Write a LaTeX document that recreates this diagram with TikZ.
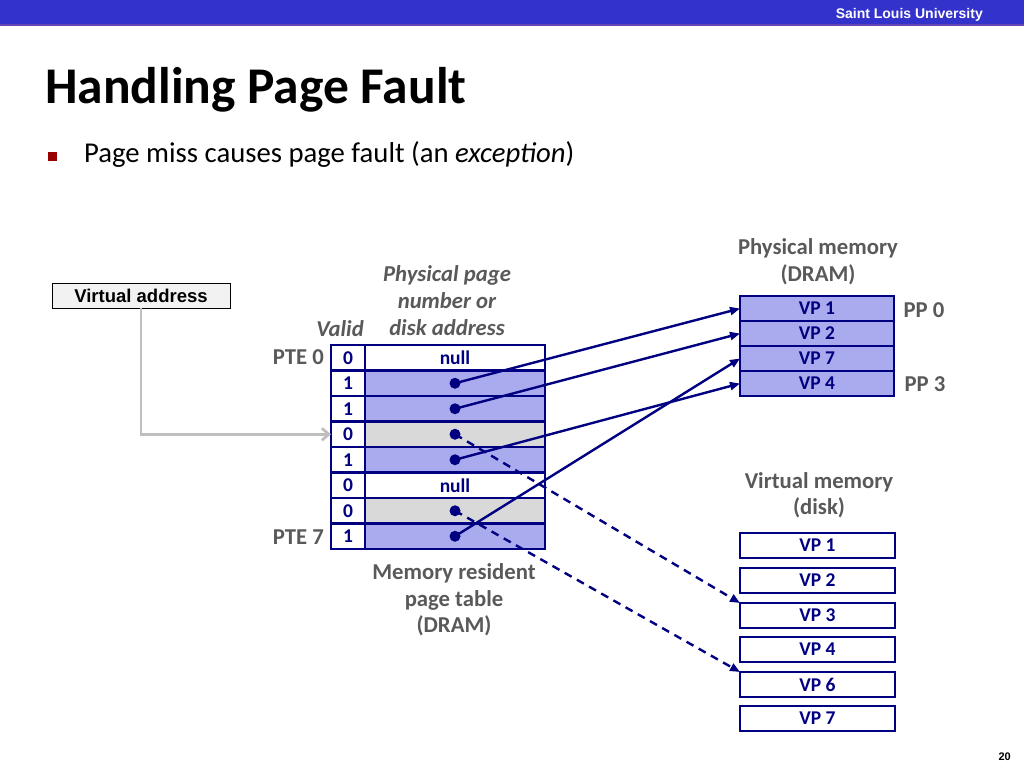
\documentclass[tikz,border=0pt]{standalone}
\usepackage{fontspec}
\setmainfont{Carlito}
\newfontfamily\arialf{Liberation Sans}
\usetikzlibrary{arrows.meta}
\definecolor{band}{RGB}{51,51,204}
\definecolor{bandline}{RGB}{102,68,180}
\definecolor{lav}{RGB}{170,170,238}
\definecolor{cellgray}{RGB}{217,217,217}
\definecolor{navy}{RGB}{0,0,128}
\definecolor{lblgray}{RGB}{89,89,89}
\definecolor{bulletred}{RGB}{153,0,0}
\definecolor{arrgray}{RGB}{191,191,191}
\definecolor{vabox}{RGB}{242,242,242}
\tikzset{
  cell/.style={draw=navy, line width=2.4pt, anchor=north west, inner sep=0pt, outer sep=0pt,
    minimum height=25.5pt, text=navy, font=\fontsize{19.5}{21}\selectfont\bfseries},
  vcell/.style={cell, minimum width=34pt, fill=white},
  acell/.style={cell, minimum width=180pt},
  pmcell/.style={cell, minimum width=154pt, minimum height=25pt, fill=lav},
  dkcell/.style={cell, minimum width=155pt, minimum height=25pt, fill=white},
  dotn/.style={circle, fill=navy, inner sep=0pt, minimum size=11pt},
  lbl/.style={text=lblgray, font=\fontsize{22.7}{26.5}\selectfont\bfseries, align=center, inner sep=0pt},
  ilbl/.style={lbl, font=\fontsize{22.7}{27}\selectfont\bfseries\itshape},
  solidarr/.style={draw=navy, line width=2.4pt, -{Triangle[length=10pt,width=8pt]}},
  dasharr/.style={draw=navy, line width=2.4pt, dash pattern=on 8pt off 6pt, -{Triangle[length=10pt,width=8pt]}},
}
\begin{document}
\begin{tikzpicture}[x=1pt,y=-1pt]
\useasboundingbox (0,0) rectangle (1024,768);
% header band
\fill[band] (0,0) rectangle (1024,24);
\fill[bandline] (0,24) rectangle (1024,26);
\node[anchor=base east, text=white, inner sep=0pt, font=\arialf\fontsize{14}{16}\selectfont\bfseries] (uni) at (983,19) {Saint Louis University};
% title
\node[anchor=base west, inner sep=0pt, font=\fontsize{51.5}{56}\selectfont\bfseries] (title) at (45,103) {Handling Page Fault};
\node[fill=bulletred, minimum size=9pt, inner sep=0pt] (bul) at (52,156) {};
\node[anchor=base west, inner sep=0pt, font=\fontsize{28.7}{32}\selectfont] (body) at (84,162) {Page miss causes page fault (an \textit{exception})};
% virtual address box
\node[draw=black, line width=0.9pt, fill=vabox, minimum width=178pt, minimum height=25pt, inner sep=0pt,
  font=\arialf\fontsize{18.5}{20}\selectfont\bfseries] (va) at (141,295.5) {Virtual address};
% page table
\foreach \i/\v/\f/\t in {0/0/white/null,1/1/lav/,2/1/lav/,3/0/cellgray/,4/1/lav/,5/0/white/null,6/0/cellgray/,7/1/lav/} {
  \node[vcell] (v\i) at (331,345+25.5*\i) {\v};
  \node[acell, fill=\f] (a\i) at (365,345+25.5*\i) {\t};
}
\foreach \i in {1,2,3,4,6,7} { \node[dotn] (d\i) at (a\i.center) {}; }
% labels around table
\node[ilbl] (valid) at (340,329) {Valid};
\node[ilbl] (ppn) at (447,301) {Physical page\\number or\\disk address};
\node[lbl] (mrpt) at (454,600) {Memory resident\\page table\\(DRAM)};
\node[lbl, anchor=east] (pte0) at (324,357) {PTE 0};
\node[lbl, anchor=east] (pte7) at (324,537) {PTE 7};
% physical memory
\node[lbl] (pmlbl) at (818,262) {Physical memory\\(DRAM)};
\foreach \i/\t in {0/VP 1,1/VP 2,2/VP 7,3/VP 4} {
  \node[pmcell] (p\i) at (740,296+25*\i) {\t};
}
\node[lbl] (pp0) at (924,310) {PP 0};
\node[lbl] (pp3) at (925,384) {PP 3};
% disk
\node[lbl] (vmlbl) at (819,495) {Virtual memory\\(disk)};
\foreach \n/\y/\t in {1/533/VP 1,2/568/VP 2,3/603/VP 3,4/637/VP 4,6/672/VP 6,7/706/VP 7} {
  \node[dkcell] (k\n) at (740,\y) {\t};
}
% arrows
\draw[draw=arrgray, line width=2.8pt, -{Straight Barb[length=7pt,width=12pt]}] (va.south) |- (v3.west);
\draw[solidarr] (d1.center) -- (p0.west);
\draw[solidarr] (d2.center) -- (p1.west);
\draw[solidarr] (d4.center) -- (p3.west);
\draw[solidarr] (d7.center) -- (p2.west);
\draw[dasharr] (d3.center) -- (k3.north west);
\draw[dasharr] (d6.center) -- (k6.north west);
% page number
\node[anchor=base east, inner sep=0pt, font=\arialf\fontsize{11}{12}\selectfont\bfseries] (pg) at (1011,760) {20};
\end{tikzpicture}
\end{document}
